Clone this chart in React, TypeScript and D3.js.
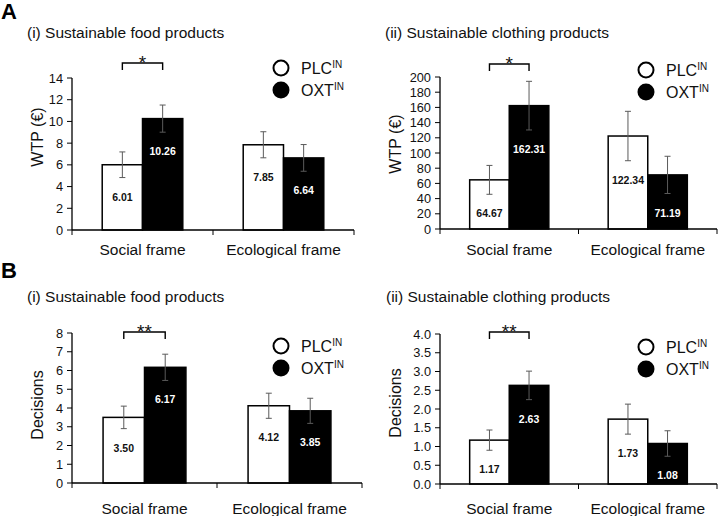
import React from 'react';
import * as d3 from 'd3';

// categories and groups
const categories = ['Social frame', 'Ecological frame'];
const groups = ['PLC', 'OXT'];

// A (i) WTP food
const wtpFoodPlc = [6.01, 7.85];
const wtpFoodOxt = [10.26, 6.64];
const wtpFoodPlcSe = [1.18, 1.2];
const wtpFoodOxtSe = [1.25, 1.23];
const wtpFoodTicks = [0, 2, 4, 6, 8, 10, 12, 14];

// A (ii) WTP clothing
const wtpClothPlc = [64.67, 122.34];
const wtpClothOxt = [162.31, 71.19];
const wtpClothPlcSe = [19, 32.5];
const wtpClothOxtSe = [32, 24.5];
const wtpClothTicks = [0, 20, 40, 60, 80, 100, 120, 140, 160, 180, 200];

// B (i) decisions food
const decFoodPlc = [3.5, 4.12];
const decFoodOxt = [6.17, 3.85];
const decFoodPlcSe = [0.6, 0.67];
const decFoodOxtSe = [0.7, 0.67];
const decFoodTicks = [0, 1, 2, 3, 4, 5, 6, 7, 8];

// B (ii) decisions clothing
const decClothPlc = [1.17, 1.73];
const decClothOxt = [2.63, 1.08];
const decClothPlcSe = [0.27, 0.4];
const decClothOxtSe = [0.38, 0.34];
const decClothTicks = [0, 0.5, 1, 1.5, 2, 2.5, 3, 3.5, 4];

const titles = ['(i) Sustainable food products', '(ii) Sustainable clothing products'];
const sigStars = ['*', '*', '**', '**'];

const FONT = '"Liberation Sans", Arial, Helvetica, sans-serif';

const Panel = ({ plc, oxt, plcSe, oxtSe, ticks, tickFmt, yLabel, title, star, L }) => {
    const x = d3.scaleBand().domain(categories).range([L.x0, L.x1]);
    const xi = d3.scaleBand().domain(groups).range([0, x.bandwidth()]).paddingOuter(0.75);
    const y = d3.scaleLinear().domain([0, ticks[ticks.length - 1]]).range([L.yBottom, L.yTop]);
    const bw = xi.bandwidth();

    const bars = [];
    categories.forEach((c, i) => {
        groups.forEach((g) => {
            const v = g === 'PLC' ? plc[i] : oxt[i];
            const se = g === 'PLC' ? plcSe[i] : oxtSe[i];
            const bx = x(c) + xi(g);
            const cx = bx + bw / 2;
            const fill = g === 'PLC' ? '#fff' : '#000';
            bars.push(
                <g key={c + g}>
                    <rect x={bx} y={y(v)} width={bw} height={y(0) - y(v)}
                          fill={fill} stroke="#000" strokeWidth={1.5}/>
                    <line x1={cx} x2={cx} y1={y(v + se)} y2={y(v - se)} stroke="#5a5a5a" strokeWidth={1}/>
                    <line x1={cx - 3} x2={cx + 3} y1={y(v + se)} y2={y(v + se)} stroke="#5a5a5a" strokeWidth={1}/>
                    <line x1={cx - 3} x2={cx + 3} y1={y(v - se)} y2={y(v - se)} stroke="#5a5a5a" strokeWidth={1}/>
                    <text x={cx} y={y(v - se) + 23} textAnchor="middle" fontSize={10.5} fontWeight="bold"
                          fill={g === 'PLC' ? '#111' : '#fff'}>{v.toFixed(2)}</text>
                </g>
            );
        });
    });

    // significance bracket over social frame
    const bxa = x(categories[0]) + xi('PLC') + bw / 2;
    const bxb = x(categories[0]) + xi('OXT') + bw / 2;

    const xTickPos = [L.x0, ...categories.slice(1).map(c => x(c)), L.x1];

    return (
        <g fontFamily={FONT}>
            <text x={L.titleX} y={L.titleY} fontSize={15.5} fill="#111">{title}</text>
            {/* y axis */}
            <line x1={L.x0} x2={L.x0} y1={L.yTop} y2={L.yBottom} stroke="#000" strokeWidth={1.3}/>
            {ticks.map(t => (
                <g key={t} transform={`translate(${L.x0},${y(t)})`}>
                    <line x1={-5} x2={0} stroke="#000" strokeWidth={1}/>
                    <text x={-9} y={4.5} textAnchor="end" fontSize={12.8} fill="#111">{tickFmt(t)}</text>
                </g>
            ))}
            <text transform={`translate(${L.yLabelX},${L.yLabelY}) rotate(-90)`} textAnchor="middle"
                  fontSize={16} fill="#111">{yLabel}</text>
            {bars}
            {/* x axis */}
            <line x1={L.x0} x2={L.x1} y1={L.yBottom} y2={L.yBottom} stroke="#000" strokeWidth={1.3}/>
            {xTickPos.map((p, i) => (
                <line key={i} x1={p} x2={p} y1={L.yBottom} y2={L.yBottom + 5} stroke="#000" strokeWidth={1}/>
            ))}
            {categories.map(c => (
                <text key={c} x={x(c) + x.bandwidth() / 2} y={L.xLabelY} textAnchor="middle"
                      fontSize={15.5} fill="#111">{c}</text>
            ))}
            {/* bracket */}
            <path d={`M${bxa},${L.bracketY + 7}V${L.bracketY}H${bxb}V${L.bracketY + 7}`}
                  fill="none" stroke="#000" strokeWidth={1.4}/>
            <text x={(bxa + bxb) / 2} y={L.bracketY + 6} textAnchor="middle" fontSize={19} fill="#111">{star}</text>
            {/* legend */}
            {groups.map((g, i) => (
                <g key={g} transform={`translate(${L.legX},${L.legY + i * 22})`}>
                    <circle r={7.5} fill={g === 'PLC' ? '#fff' : '#000'} stroke="#000" strokeWidth={2}/>
                    <text x={20} y={6} fontSize={16} fill="#111">{g}
                        <tspan fontSize={10} dy={-6}>IN</tspan>
                    </text>
                </g>
            ))}
        </g>
    );
};

const fmtInt = d3.format('d');
const fmtOne = d3.format('.1f');

export default function App() {
    return (
        <svg width={720} height={516} style={{ position: 'absolute', left: 0, top: 0, background: '#fff' }}>
            <text x={1} y={19} fontFamily={FONT} fontWeight="bold" fontSize={22}>A</text>
            <text x={1} y={278} fontFamily={FONT} fontWeight="bold" fontSize={22}>B</text>
            <Panel plc={wtpFoodPlc} oxt={wtpFoodOxt} plcSe={wtpFoodPlcSe} oxtSe={wtpFoodOxtSe}
                   ticks={wtpFoodTicks} tickFmt={fmtInt} yLabel="WTP (€)" title={titles[0]} star={sigStars[0]}
                   L={{ x0: 72, x1: 354, yTop: 78, yBottom: 230, titleX: 27, titleY: 38, yLabelX: 43, yLabelY: 137,
                        xLabelY: 255, bracketY: 63, legX: 281, legY: 68 }}/>
            <Panel plc={wtpClothPlc} oxt={wtpClothOxt} plcSe={wtpClothPlcSe} oxtSe={wtpClothOxtSe}
                   ticks={wtpClothTicks} tickFmt={fmtInt} yLabel="WTP (€)" title={titles[1]} star={sigStars[1]}
                   L={{ x0: 440, x1: 717, yTop: 77, yBottom: 229, titleX: 385, titleY: 38, yLabelX: 401, yLabelY: 144,
                        xLabelY: 255, bracketY: 64, legX: 646, legY: 70 }}/>
            <Panel plc={decFoodPlc} oxt={decFoodOxt} plcSe={decFoodPlcSe} oxtSe={decFoodOxtSe}
                   ticks={decFoodTicks} tickFmt={fmtInt} yLabel="Decisions" title={titles[0]} star={sigStars[2]}
                   L={{ x0: 72, x1: 362, yTop: 333, yBottom: 483, titleX: 27, titleY: 302, yLabelX: 43, yLabelY: 405,
                        xLabelY: 514, bracketY: 332, legX: 281, legY: 346 }}/>
            <Panel plc={decClothPlc} oxt={decClothOxt} plcSe={decClothPlcSe} oxtSe={decClothOxtSe}
                   ticks={decClothTicks} tickFmt={fmtOne} yLabel="Decisions" title={titles[1]} star={sigStars[3]}
                   L={{ x0: 440, x1: 717, yTop: 334, yBottom: 484, titleX: 386, titleY: 302, yLabelX: 401, yLabelY: 403,
                        xLabelY: 514, bracketY: 332, legX: 646, legY: 347 }}/>
        </svg>
    );
}
